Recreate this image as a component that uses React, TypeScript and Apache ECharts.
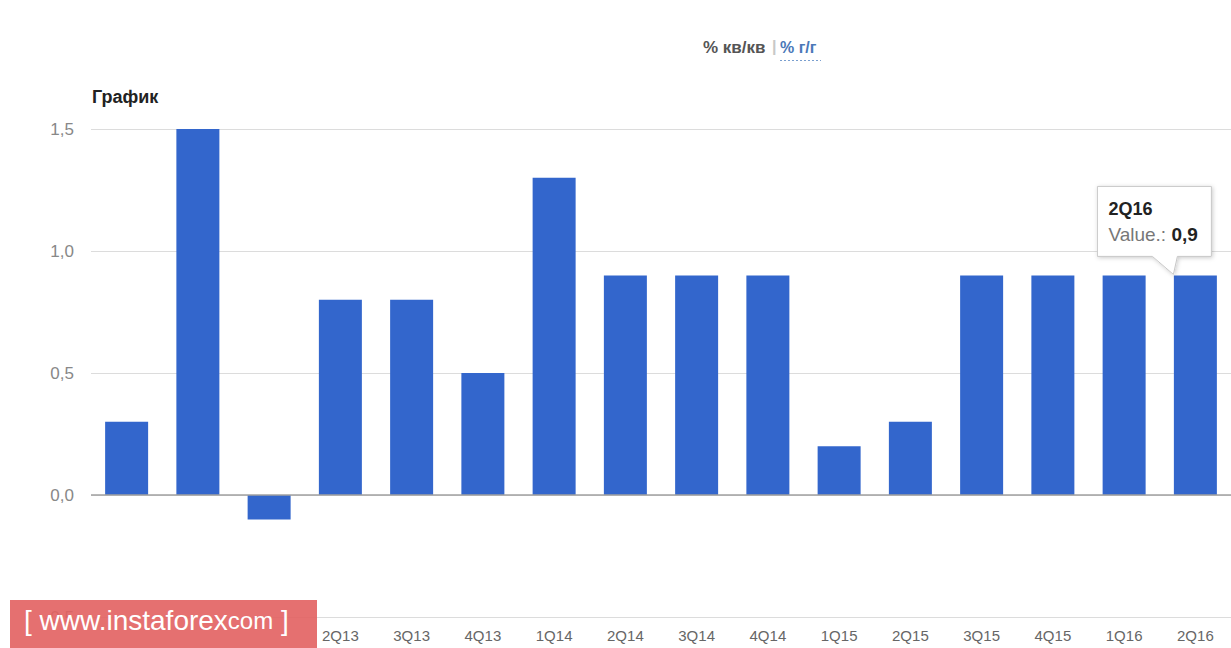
import React, { useEffect, useRef } from "react";
import * as echarts from "echarts";

const categories = ["3Q12", "4Q12", "1Q13", "2Q13", "3Q13", "4Q13", "1Q14", "2Q14", "3Q14", "4Q14", "1Q15", "2Q15", "3Q15", "4Q15", "1Q16", "2Q16"];
const values = [0.3, 1.5, -0.1, 0.8, 0.8, 0.5, 1.3, 0.9, 0.9, 0.9, 0.2, 0.3, 0.9, 0.9, 0.9, 0.9];
const yTicks = [-0.5, 0, 0.5, 1.0, 1.5];
const hiddenLabelCount = 3; // covered by the watermark in the reference
const tooltipIndex = 15;

const fmt = (v: number) => v.toFixed(1).replace(".", ",");
const FONT = "Liberation Sans, Arial, sans-serif";

export default function App() {
  const ref = useRef<HTMLDivElement>(null);
  useEffect(() => {
    if (!ref.current) return;
    const chart = echarts.init(ref.current, null, { renderer: "svg" });
    chart.setOption({
      animation: false,
      backgroundColor: "#ffffff",
      textStyle: { fontFamily: FONT },
      grid: { left: 91, right: 0, top: 129, bottom: 31, containLabel: false },
      xAxis: {
        type: "category",
        data: categories,
        position: "bottom",
        axisLine: { show: false },
        axisTick: { show: false },
        axisLabel: {
          color: "#666",
          fontSize: 15,
          margin: 11,
          interval: (i: number) => i >= hiddenLabelCount,
          fontFamily: FONT,
        },
      },
      yAxis: {
        type: "value",
        min: yTicks[0],
        max: yTicks[yTicks.length - 1],
        interval: 0.5,
        axisLine: { show: false },
        axisTick: { show: false },
        axisLabel: { color: "#888", fontSize: 17, margin: 17, formatter: (v: number) => fmt(v), fontFamily: FONT },
        splitLine: { lineStyle: { color: "#dcdcdc", width: 1 } },
      },
      series: [
        {
          type: "bar",
          data: values,
          barWidth: 43,
          itemStyle: { color: "#3366cc" },
          markLine: {
            silent: true,
            symbol: "none",
            label: { show: false },
            lineStyle: { color: "#a0a0a0", type: "solid", width: 1.6 },
            data: [{ yAxis: 0 }],
          },
        },
      ],
    });

    const [px, py] = chart.convertToPixel({ seriesIndex: 0 }, [tooltipIndex, values[tooltipIndex]]) as number[];
    const tipX = px - 22;
    const tipY = py - 1;
    const boxL = tipX - 76, boxR = tipX + 38, boxT = tipY - 88, boxB = tipY - 18;

    chart.setOption({
      graphic: [
        {
          type: "text",
          left: 92,
          top: 88,
          style: { text: "График", font: `bold 18px ${FONT}`, fill: "#222" },
        },
        {
          type: "text",
          left: 703,
          top: 39,
          style: { text: "% кв/кв", font: `bold 17px ${FONT}`, fill: "#555" },
        },
        {
          type: "text",
          left: 772,
          top: 38,
          style: { text: "|", font: `bold 16px ${FONT}`, fill: "#c8c8c8" },
        },
        {
          type: "text",
          left: 780,
          top: 39,
          style: { text: "% г/г", font: `bold 16px ${FONT}`, fill: "#4a78b8" },
        },
        {
          type: "line",
          shape: { x1: 780, y1: 60.5, x2: 821, y2: 60.5 },
          style: { stroke: "#7a9fcf", lineWidth: 1, lineDash: [2, 2] },
        },
        {
          type: "polygon",
          shape: {
            points: [
              [boxL, boxT], [boxR, boxT], [boxR, boxB], [tipX + 4, boxB], [tipX, tipY], [tipX - 21, boxB], [boxL, boxB],
            ],
          },
          style: { fill: "#fff", stroke: "#c8c8c8", lineWidth: 1, shadowBlur: 4, shadowColor: "rgba(0,0,0,0.2)", shadowOffsetX: 1, shadowOffsetY: 1 },
          z: 100,
        },
        {
          type: "text",
          left: boxL + 11,
          top: boxT + 14,
          z: 101,
          style: { text: categories[tooltipIndex], font: `bold 18px ${FONT}`, fill: "#222" },
        },
        {
          type: "text",
          left: boxL + 11,
          top: boxT + 39,
          z: 101,
          style: {
            text: "{a|Value.: }{b|" + fmt(values[tooltipIndex]) + "}",
            rich: {
              a: { fontSize: 19, color: "#777", fill: "#777", fontFamily: FONT },
              b: { fontSize: 19, fontWeight: "bold", color: "#222", fill: "#222", fontFamily: FONT },
            },
          },
        },
        {
          type: "rect",
          shape: { x: 10, y: 600, width: 307, height: 48 },
          style: { fill: "rgba(226,96,96,0.9)" },
          z: 100,
        },
        {
          type: "text",
          left: 24,
          top: 606,
          z: 101,
          style: {
            text: "{a|[ www.instaforex}{b|com}{a| ]}",
            rich: {
              a: { fontSize: 28, color: "#fff", fill: "#fff", fontFamily: FONT },
              b: { fontSize: 24, color: "#fff", fill: "#fff", fontFamily: FONT },
            },
          },
        },
      ],
    });
    return () => chart.dispose();
  }, []);
  return <div ref={ref} style={{ position: "fixed", left: 0, top: 0, width: 1231, height: 648 }} />;
}
